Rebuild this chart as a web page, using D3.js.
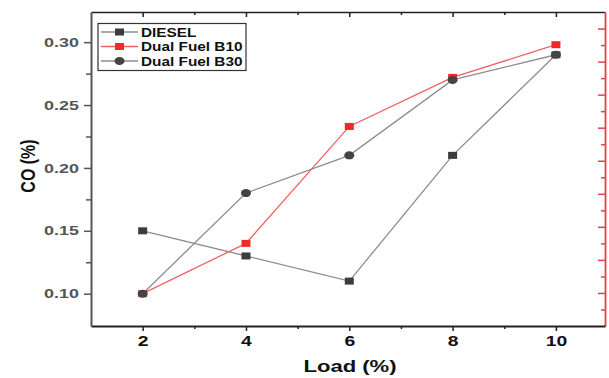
<!DOCTYPE html>
<html>
<head>
<meta charset="utf-8">
<script src="https://cdn.jsdelivr.net/npm/d3@7"></script>
<style>
  html, body { margin: 0; padding: 0; background: #fff; }
  svg { display: block; }
  text { font-family: "Liberation Sans", Arial, sans-serif; font-weight: bold; }
</style>
</head>
<body>
<svg id="chart" width="609" height="378"></svg>
<script>
// ---- data ----
const loads = [2, 4, 6, 8, 10];
const diesel = [0.15, 0.13, 0.11, 0.21, 0.29];
const b10 = [0.10, 0.14, 0.233, 0.272, 0.298];
const b30 = [0.10, 0.18, 0.21, 0.27, 0.29];
const seriesNames = ["DIESEL", "Dual Fuel B10", "Dual Fuel B30"];
const xTicks = [2, 4, 6, 8, 10];
const xMinor = [3, 5, 7, 9];
const yTicks = [0.10, 0.15, 0.20, 0.25, 0.30];
const yMinor = [0.125, 0.175, 0.225, 0.275];
const xTitle = "Load (%)";
const yTitle = "CO (%)";

const SX = 1.38; // horizontal stretch of the reference image
const svg = d3.select("#chart");
const L = 91, R = 605, T = 12, B = 326;

const x = d3.scaleLinear().domain([1, 10.95]).range([L, R]);
const y = d3.scaleLinear().domain([0.0743, 0.324]).range([B, T]);
const yr = d3.scaleLinear().domain([0, 19]).range([B, T]);

// ---- axes ----
function styleAxis(g, color, width) {
  g.select(".domain").attr("stroke", color).attr("stroke-width", width);
  g.selectAll(".tick line").attr("stroke", color).attr("stroke-width", 1.5);
}

// top axis (inward ticks)
const gTop = svg.append("g").attr("transform", `translate(0,${T})`)
  .call(d3.axisTop(x).tickValues(xTicks).tickSize(-5).tickSizeOuter(0).tickFormat(""));
styleAxis(gTop, "#222", 1.5);
const gTopMinor = svg.append("g").attr("transform", `translate(0,${T})`)
  .call(d3.axisTop(x).tickValues(xMinor).tickSize(-3).tickSizeOuter(0).tickFormat(""));
styleAxis(gTopMinor, "#222", 0);
gTopMinor.select(".domain").remove();

// right axis (red, inward ticks)
const gRight = svg.append("g").attr("transform", `translate(${R},0)`)
  .call(d3.axisRight(yr).tickValues(d3.range(1, 19)).tickSize(0).tickSizeOuter(0).tickFormat(""));
styleAxis(gRight, "#e8404a", 1.8);
gRight.selectAll(".tick line")
  .attr("x2", d => d % 2 === 0 ? -7 : -4)
  .attr("stroke", "#e8404a");

// bottom axis
const gBottom = svg.append("g").attr("transform", `translate(0,${B})`)
  .call(d3.axisBottom(x).tickValues(xTicks).tickSize(5).tickSizeOuter(0).tickFormat(d3.format("d")));
styleAxis(gBottom, "#222", 2);
gBottom.selectAll(".tick text")
  .attr("font-size", 14).attr("font-family", "Liberation Sans, Arial, sans-serif")
  .attr("font-weight", "bold").attr("fill", "#111")
  .attr("y", 10).attr("x", 0)
  .attr("transform", `scale(${SX},1)`);
const gBottomMinor = svg.append("g").attr("transform", `translate(0,${B})`)
  .call(d3.axisBottom(x).tickValues(xMinor).tickSize(3).tickSizeOuter(0).tickFormat(""));
styleAxis(gBottomMinor, "#222", 0);
gBottomMinor.select(".domain").remove();

// left axis
const gLeft = svg.append("g").attr("transform", `translate(${L},0)`)
  .call(d3.axisLeft(y).tickValues(yTicks).tickSize(7).tickSizeOuter(0).tickFormat(d3.format(".2f")));
styleAxis(gLeft, "#555", 2);
gLeft.selectAll(".tick text")
  .attr("font-size", 13).attr("font-family", "Liberation Sans, Arial, sans-serif")
  .attr("font-weight", "bold").attr("fill", "#555")
  .attr("x", -12 / SX)
  .attr("transform", `scale(${SX},1)`);
const gLeftMinor = svg.append("g").attr("transform", `translate(${L},0)`)
  .call(d3.axisLeft(y).tickValues(yMinor).tickSize(5).tickSizeOuter(0).tickFormat(""));
styleAxis(gLeftMinor, "#555", 0);
gLeftMinor.select(".domain").remove();

// ---- titles ----
svg.append("text")
  .attr("transform", `translate(350,372) scale(${SX},1)`)
  .attr("text-anchor", "middle").attr("font-size", 16).attr("fill", "#111")
  .text(xTitle);
svg.append("text")
  .attr("transform", `translate(35,166) scale(1.3,1) rotate(-90)`)
  .attr("text-anchor", "middle").attr("font-size", 16).attr("fill", "#111")
  .text(yTitle);

// ---- series ----
const series = [
  { name: seriesNames[0], values: diesel, line: "#8c8c8c", fill: "#3c3c3c", shape: "square" },
  { name: seriesNames[1], values: b10, line: "#f06060", fill: "#ee2a2a", shape: "square" },
  { name: seriesNames[2], values: b30, line: "#8c8c8c", fill: "#444444", shape: "circle" }
];

const lineGen = d3.line().x(d => x(d[0])).y(d => y(d[1]));

function drawMarker(g, shape, fill, cx, cy) {
  if (shape === "square") {
    g.append("rect").attr("x", cx - 4.5).attr("y", cy - 3.5).attr("width", 9).attr("height", 7)
      .attr("fill", fill);
  } else {
    g.append("ellipse").attr("cx", cx).attr("cy", cy).attr("rx", 5).attr("ry", 4)
      .attr("fill", fill);
  }
}

series.forEach(s => {
  const pts = loads.map((l, i) => [l, s.values[i]]);
  svg.append("path").datum(pts).attr("d", lineGen)
    .attr("fill", "none").attr("stroke", s.line).attr("stroke-width", 1.3);
});
series.forEach(s => {
  const g = svg.append("g");
  loads.forEach((l, i) => drawMarker(g, s.shape, s.fill, x(l), y(s.values[i])));
});

// ---- legend ----
const lg = svg.append("g");
lg.append("rect").attr("x", 98).attr("y", 23.5).attr("width", 148).attr("height", 47)
  .attr("fill", "#fff").attr("stroke", "#333").attr("stroke-width", 1.2);
const rowY = [32, 46.5, 61];
series.forEach((s, i) => {
  lg.append("line").attr("x1", 101).attr("x2", 138).attr("y1", rowY[i]).attr("y2", rowY[i])
    .attr("stroke", s.line).attr("stroke-width", 1.3);
  drawMarker(lg, s.shape, s.fill, 119.5, rowY[i]);
  lg.append("text")
    .attr("transform", `translate(141,${rowY[i] + 4.5}) scale(1.28,1)`)
    .attr("font-size", 12).attr("fill", "#111")
    .text(s.name);
});
</script>
</body>
</html>
